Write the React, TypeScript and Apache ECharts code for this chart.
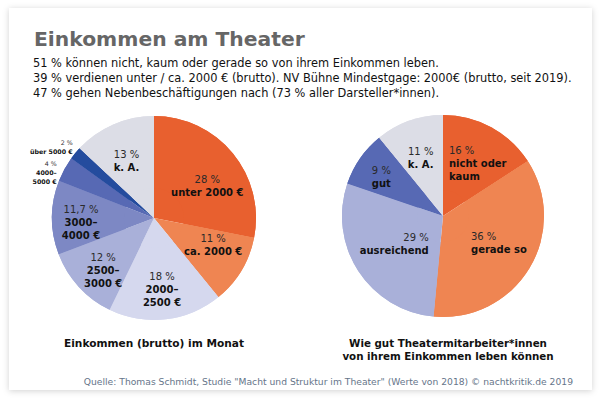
import React, { useEffect, useRef } from "react";
import * as echarts from "echarts";

const titleText = "Einkommen am Theater";
const subtitleLines = [
  "51 % können nicht, kaum oder gerade so von ihrem Einkommen leben.",
  "39 % verdienen unter / ca. 2000 € (brutto). NV Bühne Mindestgage: 2000€ (brutto, seit 2019).",
  "47 % gehen Nebenbeschäftigungen nach (73 % aller Darsteller*innen).",
];
const incomeCategories = ["unter 2000 €", "ca. 2000 €", "2000–\n2500 €", "2500–\n3000 €", "3000–\n4000 €", "4000–\n5000 €", "über 5000 €", "k. A."];
const incomeValues = [28, 11, 18, 12, 11.7, 4, 2, 13];
const incomeColors = ["#e8602f", "#ef8552", "#d5d8ee", "#a9b0d9", "#7d88c4", "#5769b4", "#244c9e", "#dcdde6"];
const livingCategories = ["nicht oder\nkaum", "gerade so", "ausreichend", "gut", "k. A."];
const livingValues = [16, 36, 29, 9, 11];
const livingColors = ["#e8602f", "#ef8552", "#a9b0d9", "#5769b4", "#dcdde6"];
const captionLeft = "Einkommen (brutto) im Monat";
const captionRight = "Wie gut Theatermitarbeiter*innen\nvon ihrem Einkommen leben können";
const sourceText = 'Quelle: Thomas Schmidt, Studie "Macht und Struktur im Theater" (Werte von 2018) © nachtkritik.de 2019';

// label styling (nudges / alignment of the hand-placed labels in the original)
const incomeLabelOffsets = [[0, 12], [0, -8], [0, 3], [0, 6], [-4, 5], [1, 4], [6, -5], [0, 6]];
const incomeLabelAlign = ["center", "center", "center", "center", "center", "right", "right", "center"];
const livingLabelOffsets = [[3, 6], [-1, -7], [7, -8], [-7, -1], [0, 5]];
const livingLabelAlign = ["left", "left", "right", "center", "center"];

const FONT = "DejaVu Sans";

function fmtLabel(value: number, name: string, align: string, small = false) {
  const v = String(value).replace(".", ",");
  const a = align[0];
  const p = (small ? "ps" : "p") + a;
  const n = (small ? "ns" : "n") + a;
  return `{${p}|${v} %}\n` + name.split("\n").map((s) => `{${n}|${s}}`).join("\n");
}

const baseRich: Record<string, any> = {
  p: { fontFamily: FONT, fontSize: 10, color: "#2a2a2a", lineHeight: 13, fontWeight: "normal" },
  n: { fontFamily: FONT, fontSize: 10, color: "#111", lineHeight: 13, fontWeight: "bold" },
  ps: { fontFamily: FONT, fontSize: 6.3, color: "#333", lineHeight: 9, fontWeight: "normal" },
  ns: { fontFamily: FONT, fontSize: 6.3, color: "#111", lineHeight: 9, fontWeight: "bold" },
};
const rich: Record<string, any> = {};
for (const k of Object.keys(baseRich)) {
  for (const al of ["left", "right", "center"]) {
    rich[k + al[0]] = { ...baseRich[k], align: al };
  }
}

export default function App() {
  const ref = useRef<HTMLDivElement>(null);
  useEffect(() => {
    if (!ref.current) return;
    const chart = echarts.init(ref.current, undefined, { renderer: "svg" });

    const smallIdx = [5, 6];
    const incomeData = incomeValues.map((v, i) => ({
      value: v,
      name: incomeCategories[i],
      itemStyle: { color: incomeColors[i] },
      label: smallIdx.includes(i)
        ? {
            show: true,
            position: "outside",
            formatter: fmtLabel(v, incomeCategories[i], incomeLabelAlign[i], true),
            rich,
            offset: incomeLabelOffsets[i],
          }
        : {
            show: true,
            position: "inside",
            formatter: fmtLabel(v, incomeCategories[i], incomeLabelAlign[i]),
            rich,
            offset: incomeLabelOffsets[i],
          },
      labelLine: { show: false, length: 2, length2: 2 },
    }));
    const livingData = livingValues.map((v, i) => ({
      value: v,
      name: livingCategories[i],
      itemStyle: { color: livingColors[i] },
      label: {
        show: true,
        position: "inside",
        formatter: fmtLabel(v, livingCategories[i], livingLabelAlign[i]),
        rich,
        offset: livingLabelOffsets[i],
      },
    }));
    const plainIncome = incomeValues.map((v, i) => ({ value: v, name: incomeCategories[i], itemStyle: { color: incomeColors[i] } }));
    const plainLiving = livingValues.map((v, i) => ({ value: v, name: livingCategories[i], itemStyle: { color: livingColors[i] } }));

    chart.setOption({
      animation: false,
      backgroundColor: "#ffffff",
      graphic: [
        {
          type: "rect",
          shape: { x: 9, y: 8, width: 583, height: 382 },
          style: { fill: "#ffffff", shadowBlur: 6, shadowColor: "rgba(0,0,0,0.18)", shadowOffsetY: 1 },
          z: -10,
        },
        {
          type: "text",
          left: 34,
          top: 29,
          style: { text: titleText, fontFamily: FONT, fontSize: 20.3, fontWeight: "bold", fill: "#666666" },
        },
        {
          type: "text",
          left: 33,
          top: 55,
          style: { text: subtitleLines.join("\n"), fontFamily: FONT, fontSize: 11.4, lineHeight: 15, fill: "#111111" },
        },
        {
          type: "text",
          x: 154,
          y: 343,
          style: { text: captionLeft, fontFamily: FONT, fontSize: 10.6, fontWeight: "bold", fill: "#111", align: "center", verticalAlign: "middle" },
        },
        {
          type: "text",
          x: 448,
          y: 349.5,
          style: { text: captionRight, fontFamily: FONT, fontSize: 10.3, lineHeight: 13.5, fontWeight: "bold", fill: "#111", align: "center", verticalAlign: "middle" },
        },
        {
          type: "text",
          x: 573,
          y: 381,
          style: { text: sourceText, fontFamily: FONT, fontSize: 9.2, fill: "#66758a", align: "right", verticalAlign: "middle" },
        },
      ],
      series: [
        {
          type: "pie",
          center: [154, 218],
          radius: [0, 102],
          startAngle: 90,
          clockwise: true,
          label: { show: false },
          labelLine: { show: false },
          silent: true,
          data: plainIncome,
        },
        {
          type: "pie",
          center: [154, 218],
          radius: [30, 102],
          startAngle: 90,
          clockwise: true,
          data: incomeData,
          silent: true,
          avoidLabelOverlap: false,
          labelLayout: { hideOverlap: false },
        },
        {
          type: "pie",
          center: [443, 216],
          radius: [0, 101],
          startAngle: 90,
          clockwise: true,
          label: { show: false },
          labelLine: { show: false },
          silent: true,
          data: plainLiving,
        },
        {
          type: "pie",
          center: [443, 216],
          radius: [26, 101],
          startAngle: 90,
          clockwise: true,
          data: livingData,
          silent: true,
          avoidLabelOverlap: false,
          labelLayout: { hideOverlap: false },
        },
      ],
    });
    return () => chart.dispose();
  }, []);
  return (
    <div style={{ position: "fixed", left: 0, top: 0, width: 600, height: 399, background: "#fff" }}>
      <div ref={ref} style={{ width: 600, height: 399 }} />
    </div>
  );
}
